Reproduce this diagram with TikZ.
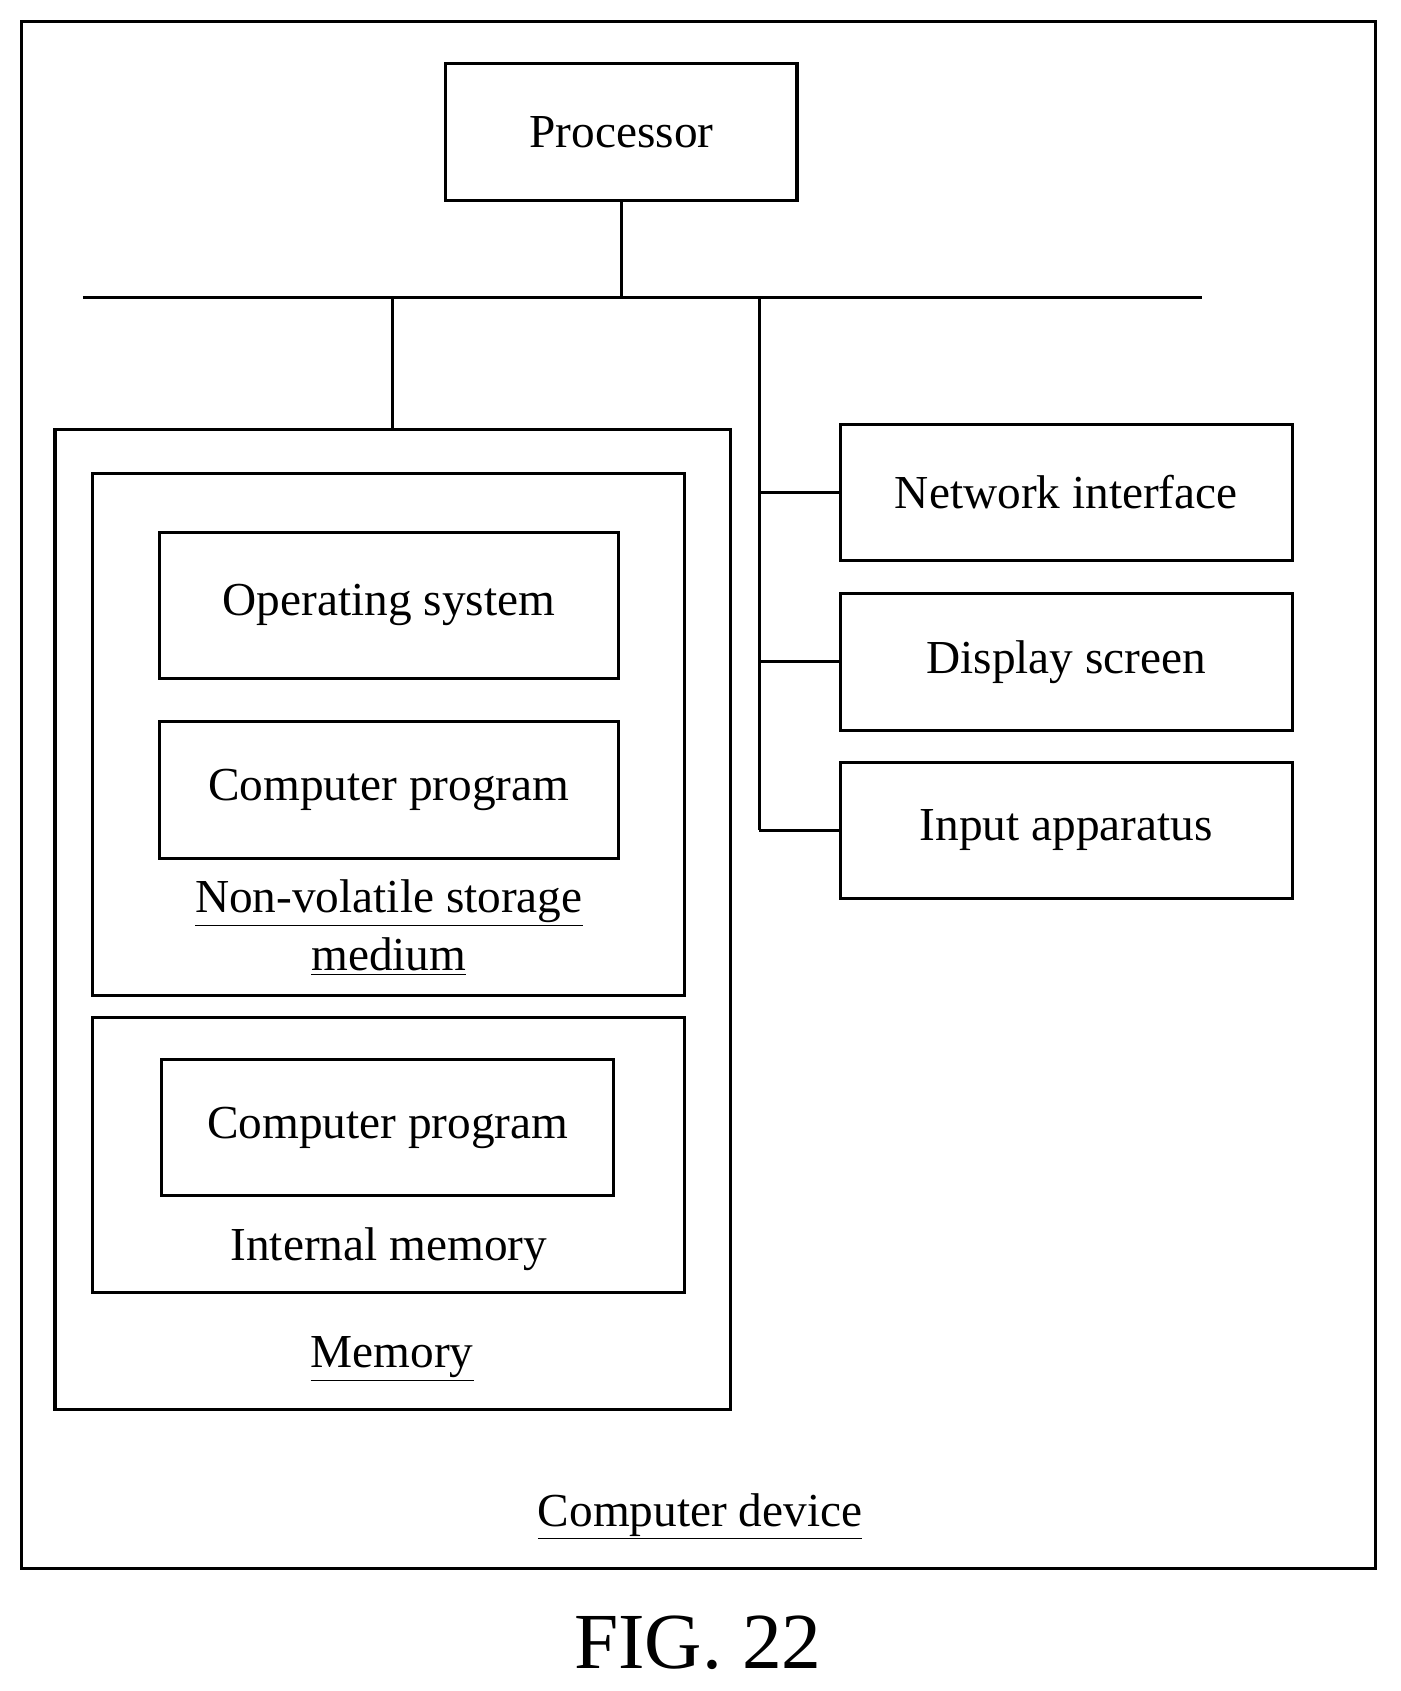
\documentclass[tikz,border=0pt]{standalone}
\usepackage{fontspec}
\setmainfont{Liberation Serif}
\usetikzlibrary{positioning}
\tikzset{font=\fontsize{25}{31}\selectfont}

\begin{document}
\begin{tikzpicture}
  [x=0.02cm, y=-0.02cm, line width=1.6pt,
  block/.style ={rectangle, draw, inner sep=0pt, align=center},
  label/.style ={inner sep=0pt, align=center},
  line/.style ={draw}]
  \useasboundingbox (0,0) rectangle (1300,1570);

  % outer frame and top
  \node [block, minimum width=25.14cm, minimum height=28.72cm] (device) at (648.5,738) {};
  \node [block, minimum width=6.52cm, minimum height=2.54cm] (processor) at (577,122.5) {Processor};
  \coordinate (busL) at (77,276);
  \coordinate (busR) at (1116,276);
  \coordinate (branch) at (705,276);

  % memory
  \node [block, minimum width=12.54cm, minimum height=18.2cm] (memory) at (364.5,854) {};
  \node [block, minimum width=11cm, minimum height=9.68cm] (nonvol) at (361,682) {};
  \node [block, minimum width=8.52cm, minimum height=2.72cm] (os) at (361,562) {Operating system};
  \node [block, minimum width=8.52cm, minimum height=2.54cm] (program1) at (361,733.5) {Computer program};
  \node [label] (nonvolLabel) at (361,861) {\underline{Non-volatile storage}\\\underline{medium}};
  \node [block, minimum width=11cm, minimum height=5.1cm] (internal) at (361,1072.5) {};
  \node [block, minimum width=8.4cm, minimum height=2.52cm] (program2) at (360,1047) {Computer program};
  \node [label] (internalLabel) at (361,1160) {Internal memory};
  \node [label] (memoryLabel) at (364,1262) {\underline{Memory}};

  % peripherals
  \node [block, minimum width=8.4cm, minimum height=2.52cm] (network) at (990,457) {Network interface};
  \node [block, minimum width=8.4cm, minimum height=2.54cm] (display) at (990,614.5) {Display screen};
  \node [block, minimum width=8.4cm, minimum height=2.52cm] (input) at (990,771) {Input apparatus};

  \node [label] (deviceLabel) at (650,1408) {\underline{Computer device}};
  \node [label, font=\fontsize{42}{48}\selectfont] (fig) at (648,1525) {FIG. 22};

  \begin{scope}[every path/.style=line]
    \path (busL) -- (busR);
    \path (processor) -- (processor.south |- busL);
    \path (memory) -- (memory.north |- busL);
    \path (branch) -- (branch |- input.west);
    \path (network) -- (network.west -| branch);
    \path (display) -- (display.west -| branch);
    \path (input) -- (input.west -| branch);
  \end{scope}
\end{tikzpicture}
\end{document}
